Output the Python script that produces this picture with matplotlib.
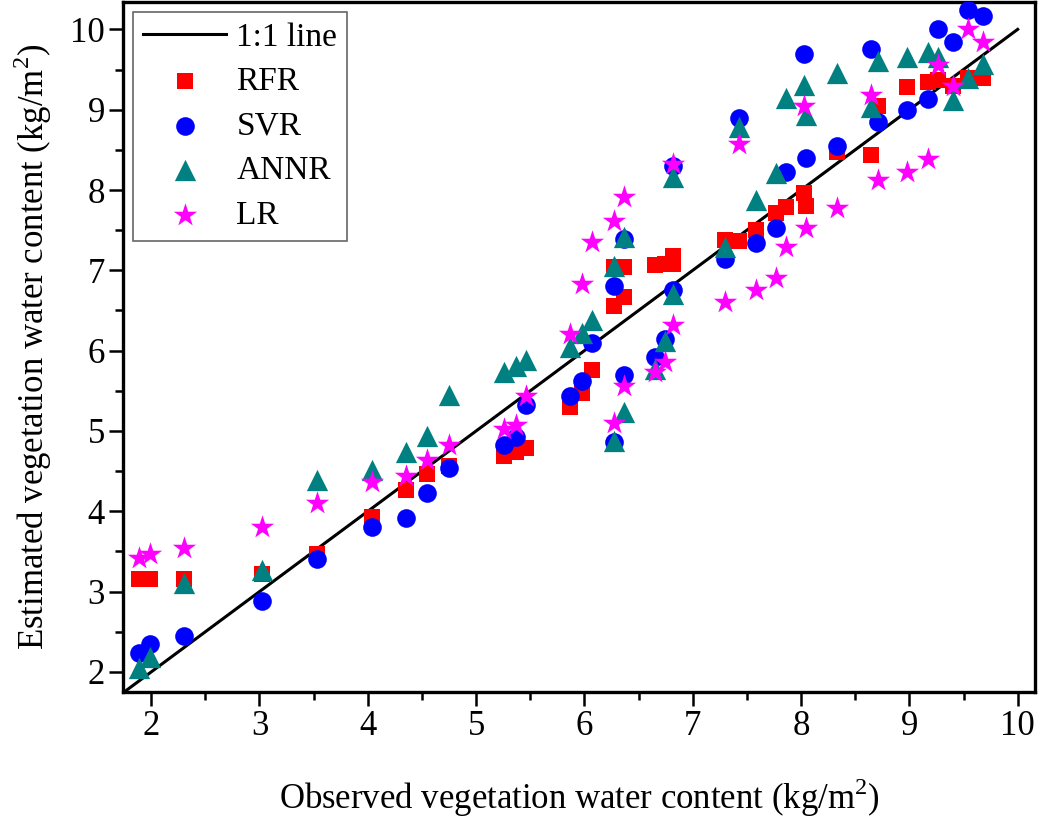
import matplotlib
matplotlib.use('Agg')
import matplotlib.pyplot as plt

# observed water content of the samples (kg/m2)
observed = [1.89, 1.99, 2.30, 3.02, 3.53, 4.04, 4.35, 4.55, 4.75, 5.26,
            5.37, 5.46, 5.87, 5.98, 6.07, 6.27, 6.27, 6.37, 6.37, 6.65,
            6.74, 6.82, 6.82, 7.30, 7.43, 7.58, 7.77, 7.86, 8.03, 8.05,
            8.33, 8.65, 8.71, 8.98, 9.17, 9.26, 9.40, 9.54, 9.68]

# estimated water content for each regression model
rfr = [3.16, 3.16, 3.16, 3.22, 3.47, 3.93, 4.27, 4.47, 4.56, 4.69,
       4.74, 4.79, 5.30, 5.47, 5.76, 7.04, 6.55, 7.04, 6.67, 7.07,
       7.08, 7.18, 7.08, 7.38, 7.37, 7.50, 7.71, 7.79, 7.96, 7.80,
       8.47, 8.43, 9.04, 9.28, 9.34, 9.37, 9.30, 9.40, 9.40]
svr = [2.24, 2.35, 2.45, 2.88, 3.40, 3.81, 3.92, 4.23, 4.54, 4.83,
       4.92, 5.32, 5.44, 5.62, 6.10, 6.80, 4.86, 7.39, 5.70, 5.92,
       6.14, 8.30, 6.76, 7.14, 8.90, 7.34, 7.53, 8.23, 9.69, 8.40,
       8.55, 9.76, 8.85, 8.99, 9.13, 10.01, 9.84, 10.24, 10.17]
annr = [2.05, 2.19, 3.11, 3.27, 4.39, 4.51, 4.74, 4.94, 5.45, 5.73,
        5.81, 5.88, 6.04, 6.22, 6.38, 7.06, 4.88, 7.42, 5.23, 5.77,
        6.12, 8.16, 6.71, 7.29, 8.78, 7.87, 8.21, 9.14, 9.31, 8.93,
        9.46, 9.03, 9.61, 9.65, 9.72, 9.66, 9.12, 9.39, 9.57]
lr = [3.42, 3.47, 3.54, 3.80, 4.10, 4.37, 4.44, 4.64, 4.83, 5.02,
      5.08, 5.44, 6.21, 6.83, 7.35, 7.62, 5.10, 7.91, 5.56, 5.73,
      5.86, 8.33, 6.32, 6.61, 8.57, 6.75, 6.90, 7.29, 9.04, 7.53,
      7.78, 9.18, 8.12, 8.23, 8.38, 9.56, 9.29, 10.00, 9.84]

ticks = [2, 3, 4, 5, 6, 7, 8, 9, 10]
minor_ticks = [2.5, 3.5, 4.5, 5.5, 6.5, 7.5, 8.5, 9.5]

plt.rcParams['font.family'] = ['Liberation Serif', 'DejaVu Serif']
plt.rcParams['mathtext.fontset'] = 'custom'
plt.rcParams['mathtext.rm'] = 'Liberation Serif'

fig = plt.figure(figsize=(10.56, 8.21), dpi=100)
ax = fig.add_axes([0.1165, 0.1571, 0.8636, 0.8404])

# 1:1 reference line
ax.plot([0, 10], [0, 10], color='black', lw=2.2, label='1:1 line', zorder=2)

ax.scatter(observed, rfr, marker='s', s=130, color='#ff0000', label='RFR', zorder=3, linewidths=0)
ax.scatter(observed, svr, marker='o', s=180, color='#0000ff', label='SVR', zorder=4, linewidths=0)
ax.scatter(observed, annr, marker='^', s=235, color='#008080', label='ANNR', zorder=5, linewidths=0)
ax.scatter(observed, lr, marker='*', s=310, color='#ff00ff', label='LR', zorder=6, linewidths=0)

ax.set_xlim(1.74, 10.16)
ax.set_ylim(1.75, 10.34)
ax.set_xticks(ticks)
ax.set_yticks(ticks)
ax.set_xticks(minor_ticks, minor=True)
ax.set_yticks(minor_ticks, minor=True)

for side in ['left', 'right', 'top', 'bottom']:
    ax.spines[side].set_linewidth(2.4)
ax.tick_params(which='major', direction='out', length=10, width=1.8, labelsize=25, pad=3)
ax.tick_params(which='minor', direction='out', length=6, width=1.8)
ax.tick_params(top=False, right=False, which='both')

ax.set_xlabel('Observed vegetation water content (kg/m$^2$)', fontsize=25, labelpad=24)
ax.set_ylabel('Estimated vegetation water content (kg/m$^2$)', fontsize=25, labelpad=12)

leg = ax.legend(loc='upper left', fontsize=24, frameon=True, fancybox=False,
                handlelength=2.5, handletextpad=0.3, labelspacing=0.42,
                borderpad=0.3, borderaxespad=0.3, scatterpoints=1)
leg.get_frame().set_edgecolor('#404040')
leg.get_frame().set_linewidth(1.2)

fig.savefig('out.png', dpi=100)
